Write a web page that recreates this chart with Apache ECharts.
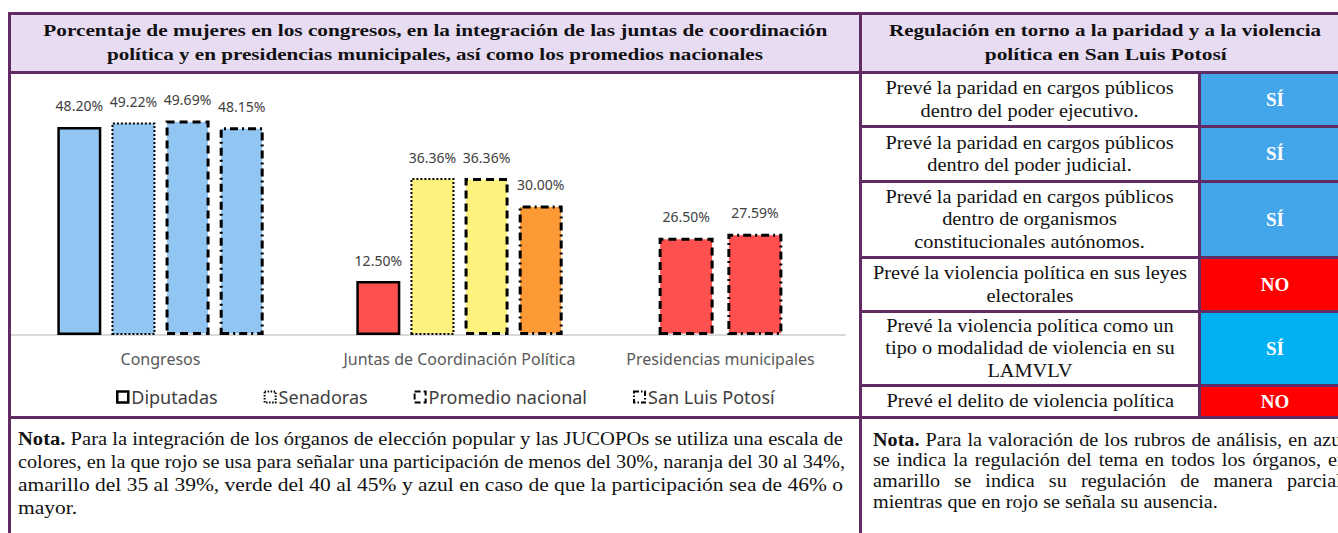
<!DOCTYPE html>
<html lang="es">
<head>
<meta charset="utf-8">
<script src="https://cdn.jsdelivr.net/npm/echarts@6/dist/echarts.min.js"></script>
<style>
  html, body { margin:0; padding:0; background:#fff; width:1338px; height:533px; overflow:hidden; position:relative; }
  .ab { position:absolute; }
  .pl { position:absolute; background:#612c63; }
  .hdr { position:absolute; background:#e8dcf3; }
  .serif { font-family:"Liberation Serif","DejaVu Serif",serif; color:#111; }
  .cell { position:absolute; display:flex; align-items:center; justify-content:center; text-align:center; font-size:18px; line-height:22.5px; }
  .cell > span { display:inline-block; transform:scaleX(1.13); transform-origin:50% 50%; white-space:nowrap; }
  .val { position:absolute; display:flex; align-items:center; justify-content:center; color:#fff; font-weight:bold; font-size:19px; }
  .ln { position:absolute; white-space:nowrap; }
  .ln > span { display:inline-block; white-space:nowrap; }
  .c { text-align:center; }
  .c > span { transform-origin:50% 50%; }
  .l > span { transform-origin:0 50%; }
</style>
</head>
<body>
<!-- header backgrounds -->
<div class="hdr" style="left:11px;top:15px;width:848px;height:56px"></div>
<div class="hdr" style="left:862px;top:15px;width:476px;height:56px"></div>

<!-- value cells -->
<div class="val serif" id="v0" style="left:1201px;top:74px;width:148px;height:51px"></div>
<div class="val serif" id="v1" style="left:1201px;top:128px;width:148px;height:52px"></div>
<div class="val serif" id="v2" style="left:1201px;top:183px;width:148px;height:73px"></div>
<div class="val serif" id="v3" style="left:1201px;top:259px;width:148px;height:51px"></div>
<div class="val serif" id="v4" style="left:1201px;top:313px;width:148px;height:71px"></div>
<div class="val serif" id="v5" style="left:1201px;top:387px;width:148px;height:29px"></div>

<!-- row texts -->
<div class="cell serif" id="t0" style="left:862px;top:74px;width:336px;height:51px"></div>
<div class="cell serif" id="t1" style="left:862px;top:128px;width:336px;height:52px"></div>
<div class="cell serif" id="t2" style="left:862px;top:183px;width:336px;height:73px"></div>
<div class="cell serif" id="t3" style="left:862px;top:259px;width:336px;height:51px"></div>
<div class="cell serif" id="t4" style="left:862px;top:313px;width:336px;height:71px"></div>
<div class="cell serif" id="t5" style="left:862px;top:387px;width:336px;height:29px"></div>

<!-- chart -->
<div id="chart" class="ab" style="left:11px;top:74px;width:848px;height:342px"></div>

<!-- purple lines -->
<div class="pl" style="left:8px;top:12px;width:1330px;height:3px"></div>
<div class="pl" style="left:8px;top:71px;width:1330px;height:3px"></div>
<div class="pl" style="left:8px;top:416px;width:1330px;height:3px"></div>
<div class="pl" style="left:8px;top:12px;width:3px;height:521px"></div>
<div class="pl" style="left:859px;top:12px;width:3px;height:521px"></div>
<div class="pl" style="left:1198px;top:74px;width:3px;height:342px"></div>
<div class="pl" style="left:862px;top:125px;width:476px;height:3px"></div>
<div class="pl" style="left:862px;top:180px;width:476px;height:3px"></div>
<div class="pl" style="left:862px;top:256px;width:476px;height:3px"></div>
<div class="pl" style="left:862px;top:310px;width:476px;height:3px"></div>
<div class="pl" style="left:862px;top:384px;width:476px;height:3px"></div>

<!-- headers -->
<div class="ln c serif fit" data-w="784" style="left:11px;top:18px;width:848px;font-size:17.5px;line-height:24px;font-weight:bold"><span>Porcentaje de mujeres en los congresos, en la integración de las juntas de coordinación</span></div>
<div class="ln c serif fit" data-w="656" style="left:11px;top:42px;width:848px;font-size:17.5px;line-height:24px;font-weight:bold"><span>política y en presidencias municipales, así como los promedios nacionales</span></div>
<div class="ln c serif fit" data-w="432" style="left:862px;top:18px;width:487px;font-size:17.5px;line-height:24px;font-weight:bold"><span>Regulación en torno a la paridad y a la violencia</span></div>
<div class="ln c serif fit" data-w="242" style="left:862px;top:42px;width:487px;font-size:17.5px;line-height:24px;font-weight:bold"><span>política en San Luis Potosí</span></div>

<!-- notes (left: glyphs fitted to width) -->
<div class="ln l serif fit" data-w="825" style="left:18px;top:428px;width:830px;font-size:18px;line-height:23px"><span><b>Nota.</b> Para la integración de los órganos de elección popular y las JUCOPOs se utiliza una escala de</span></div>
<div class="ln l serif fit" data-w="827" style="left:18px;top:451px;width:830px;font-size:18px;line-height:23px"><span>colores, en la que rojo se usa para señalar una participación de menos del 30%, naranja del 30 al 34%,</span></div>
<div class="ln l serif fit" data-w="825" style="left:18px;top:474px;width:830px;font-size:18px;line-height:23px"><span>amarillo del 35 al 39%, verde del 40 al 45% y azul en caso de que la participación sea de 46% o</span></div>
<div class="ln l serif fitlast" style="left:18px;top:497px;width:830px;font-size:18px;line-height:23px"><span>mayor.</span></div>

<!-- notes (right: glyphs widened, lines justified) -->
<div class="ln l serif just" data-w="474" data-s="1.12" style="left:873px;top:430px;width:480px;font-size:18px;line-height:21px"><span><b>Nota.</b> Para la valoración de los rubros de análisis, en azul</span></div>
<div class="ln l serif just" data-w="474" data-s="1.12" style="left:873px;top:450px;width:480px;font-size:18px;line-height:21px"><span>se indica la regulación del tema en todos los órganos, en</span></div>
<div class="ln l serif just" data-w="474" data-s="1.12" style="left:873px;top:471px;width:480px;font-size:18px;line-height:21px"><span>amarillo se indica su regulación de manera parcial,</span></div>
<div class="ln l serif just" data-s="1.12" style="left:873px;top:492px;width:480px;font-size:18px;line-height:21px"><span>mientras que en rojo se señala su ausencia.</span></div>

<script>
// ---- Chart data ----
const categories = ['Congresos', 'Juntas de Coordinación Política', 'Presidencias municipales'];
const seriesNames = ['Diputadas', 'Senadoras', 'Promedio nacional', 'San Luis Potosí'];
const diputadas = [48.20, 12.50, null];
const senadoras = [49.22, 36.36, null];
const promedioNacional = [49.69, 36.36, 26.50];
const sanLuisPotosi = [48.15, 30.00, 27.59];

// ---- Table data ----
const rubros = [
  'Prevé la paridad en cargos públicos<br>dentro del poder ejecutivo.',
  'Prevé la paridad en cargos públicos<br>dentro del poder judicial.',
  'Prevé la paridad en cargos públicos<br>dentro de organismos<br>constitucionales autónomos.',
  'Prevé la violencia política en sus leyes<br>electorales',
  'Prevé la violencia política como un<br>tipo o modalidad de violencia en su<br>LAMVLV',
  'Prevé el delito de violencia política'
];
const valoraciones = ['SÍ', 'SÍ', 'SÍ', 'NO', 'SÍ', 'NO'];
const valColors = ['#43a5ea', '#43a5ea', '#43a5ea', '#ff0000', '#00b0f0', '#ff0000'];

rubros.forEach((t, i) => { document.getElementById('t' + i).innerHTML = '<span>' + t + '</span>'; });
valoraciones.forEach((t, i) => {
  const el = document.getElementById('v' + i);
  el.textContent = t;
  el.style.background = valColors[i];
});

// fit lines horizontally to the reference widths
let lastScale = 1;
document.querySelectorAll('.fit').forEach(el => {
  const sp = el.firstElementChild;
  const w = sp.getBoundingClientRect().width;
  const target = +el.dataset.w;
  if (w > 0) { lastScale = target / w; sp.style.transform = 'scaleX(' + lastScale.toFixed(4) + ')'; }
});
document.querySelectorAll('.fitlast').forEach(el => {
  el.firstElementChild.style.transform = 'scaleX(' + lastScale.toFixed(4) + ')';
});
// justified lines: fixed glyph scale, extra room spread over word gaps
document.querySelectorAll('.just').forEach(el => {
  const sp = el.firstElementChild;
  const s = +(el.dataset.s || 1);
  sp.style.transform = 'scaleX(' + s + ')';
  if (!el.dataset.w) return;
  const w = sp.offsetWidth;
  const target = +el.dataset.w / s;
  const gaps = (sp.textContent.match(/ /g) || []).length;
  if (gaps > 0) sp.style.wordSpacing = ((target - w) / gaps).toFixed(3) + 'px';
});

// colour scale from the note
function colorFor(v) {
  if (v < 30) return '#ff5050';
  if (v < 35) return '#fd9a36';
  if (v < 40) return '#fcf27d';
  if (v < 46) return '#92d050';
  return '#92c6f2';
}
const borderTypes = ['solid', [2, 2], [8, 5], [8, 4, 2, 4]];
const borderWidths = [2.5, 2, 3, 3];
const allData = [diputadas, senadoras, promedioNacional, sanLuisPotosi];

const chart = echarts.init(document.getElementById('chart'), null, { renderer: 'svg' });

const labelCfg = {
  show: true, position: 'top', distance: 14,
  fontFamily: 'Noto Sans', fontSize: 14, color: '#404040',
  formatter: p => p.value.toFixed(2) + '%'
};
const series = [];
// grid 0: first two categories, all four series
allData.forEach((arr, si) => {
  series.push({
    name: seriesNames[si], type: 'bar', xAxisIndex: 0, yAxisIndex: 0,
    barWidth: 44, barGap: '23%',
    data: arr.slice(0, 2).map(v => ({ value: v, itemStyle: { color: colorFor(v) } })),
    itemStyle: { borderColor: '#000', borderWidth: borderWidths[si], borderType: borderTypes[si] },
    label: labelCfg
  });
});
// grid 1: third category, only series with values
allData.forEach((arr, si) => {
  const v = arr[2];
  if (v === null) return;
  series.push({
    name: seriesNames[si], type: 'bar', xAxisIndex: 1, yAxisIndex: 1,
    barWidth: 55, barGap: '25%',
    data: [{ value: v, itemStyle: { color: colorFor(v) } }],
    itemStyle: { borderColor: '#000', borderWidth: borderWidths[si], borderType: borderTypes[si] },
    label: labelCfg
  });
});

const axisCommon = {
  type: 'category',
  axisTick: { show: false },
  axisLine: { lineStyle: { color: '#d9d9d9', width: 2 } },
  axisLabel: { interval: 0, hideOverlap: false, fontFamily: 'Noto Sans', fontSize: 16, color: '#595959', margin: 16 }
};

chart.setOption({
  animation: false,
  grid: [
    { left: 0, top: 2, width: 598, height: 259 },
    { left: 585, top: 4, width: 249, height: 257 }
  ],
  xAxis: [
    Object.assign({ gridIndex: 0, data: categories.slice(0, 2) }, axisCommon),
    Object.assign({ gridIndex: 1, data: categories.slice(2) }, axisCommon)
  ],
  yAxis: [
    { gridIndex: 0, type: 'value', min: 0, max: 60, show: false },
    { gridIndex: 1, type: 'value', min: 0, max: 70, show: false }
  ],
  legend: {
    left: 100, top: 309,
    itemWidth: 11, itemHeight: 11, itemGap: 46,
    textStyle: { fontFamily: 'Noto Sans', fontSize: 18, color: '#404040', padding: [0, 0, 0, -2] },
    data: seriesNames.map((n, i) => ({
      name: n, icon: 'rect',
      itemStyle: { color: '#fff', borderColor: '#000', borderWidth: i === 0 ? 2.5 : 2, borderType: i === 0 ? 'solid' : (i === 1 ? [1.5, 1.5] : (i === 2 ? [6, 3] : [5, 2, 1.5, 2])) }
    }))
  },
  series: series
});
</script>
</body>
</html>
